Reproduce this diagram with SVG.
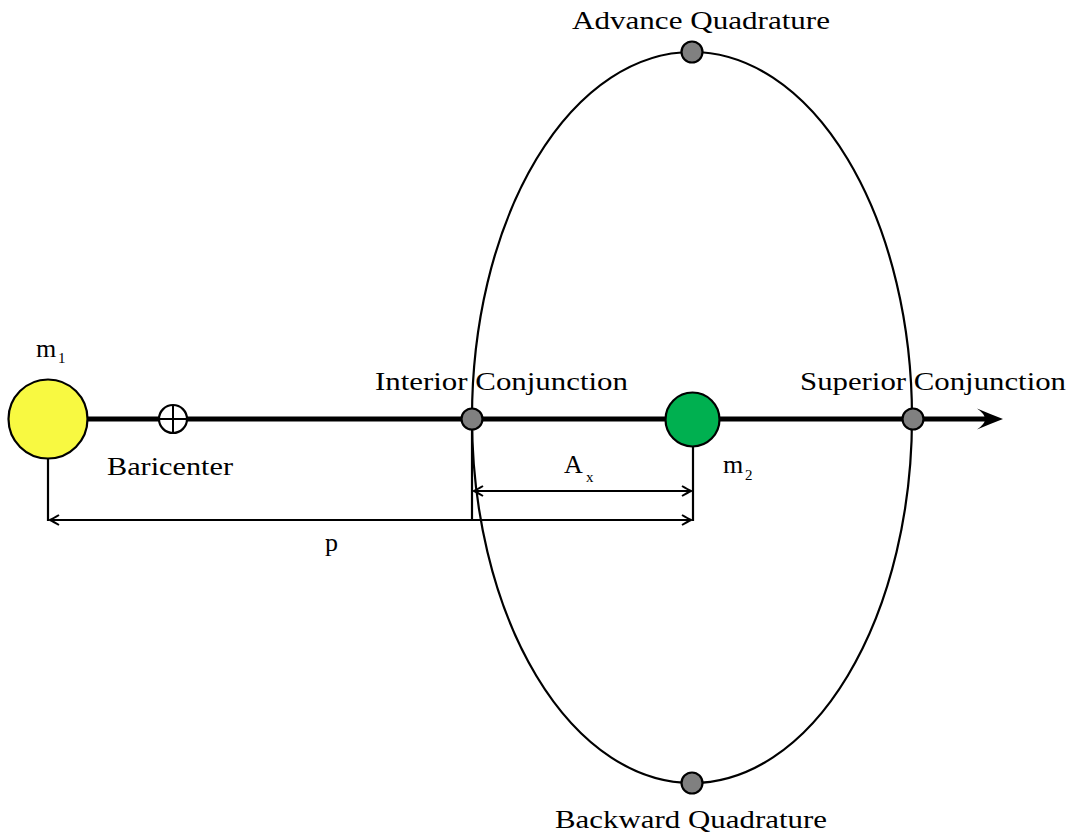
<svg xmlns="http://www.w3.org/2000/svg" width="1075" height="837" viewBox="0 0 1075 837" font-family="'Liberation Serif', 'Times New Roman', serif">
<style>
text{font-family:'Liberation Serif','Times New Roman',serif;font-size:26px;fill:#000}
.sub{font-size:15px}
.thin{stroke:#000;stroke-width:2.2;fill:none}
.dot{fill:#808080;stroke:#000;stroke-width:2.2}
</style>
<defs>
<marker id="tip" viewBox="-12 -7 14 14" refX="0" refY="0" markerWidth="14" markerHeight="14" markerUnits="userSpaceOnUse" orient="auto-start-reverse">
<path d="M-9,-5 Q-3,-1.5 0,0 Q-3,1.5 -9,5" fill="none" stroke="#000" stroke-width="2"/>
</marker>
</defs>
<rect width="1075" height="837" fill="#fff"/>
<g id="orbit">
<ellipse cx="692" cy="417.5" rx="220" ry="365.5" class="thin"/>
</g>
<g id="connectors">
<line x1="87" y1="419" x2="990" y2="419" stroke="#000" stroke-width="5"/>
<path d="M1003,419 Q990,414 977,408.5 Q985,414 985,419 Q985,424 977,429.5 Q990,424 1003,419 Z" fill="#000"/>
<line x1="48" y1="458" x2="48" y2="521" class="thin"/>
<line x1="472" y1="419" x2="472" y2="521" class="thin"/>
<line x1="693" y1="446" x2="693" y2="521" class="thin"/>
<line x1="50" y1="520" x2="691" y2="520" class="thin" marker-start="url(#tip)" marker-end="url(#tip)"/>
<line x1="474" y1="491" x2="691" y2="491" class="thin" marker-start="url(#tip)" marker-end="url(#tip)"/>
</g>
<g id="m1">
<circle cx="48" cy="419" r="39.5" fill="#f8f941" stroke="#000" stroke-width="2.2"/>
<text x="36" y="357" font-size="28">m</text><text class="sub" x="58" y="363">1</text>
</g>
<g id="baricenter">
<circle cx="173" cy="419" r="14" fill="#fff" stroke="#000" stroke-width="2.2"/>
<line x1="159" y1="419" x2="187" y2="419" stroke="#000" stroke-width="2"/>
<line x1="173" y1="405" x2="173" y2="433" stroke="#000" stroke-width="2"/>
<text x="107" y="475" textLength="126" lengthAdjust="spacingAndGlyphs">Baricenter</text>
</g>
<g id="interior">
<circle cx="472" cy="419" r="10.5" class="dot"/>
<text x="375" y="390" textLength="253" lengthAdjust="spacingAndGlyphs">Interior Conjunction</text>
</g>
<g id="m2">
<circle cx="692.5" cy="419.5" r="27" fill="#00b050" stroke="#000" stroke-width="2.2"/>
<text x="723" y="473">m</text><text class="sub" x="745" y="480">2</text>
</g>
<g id="superior">
<circle cx="913" cy="419" r="10.5" class="dot"/>
<text x="800" y="390" textLength="266" lengthAdjust="spacingAndGlyphs">Superior Conjunction</text>
</g>
<g id="advance">
<circle cx="692" cy="52" r="10.5" class="dot"/>
<text x="572" y="29" textLength="258" lengthAdjust="spacingAndGlyphs">Advance Quadrature</text>
</g>
<g id="backward">
<circle cx="692" cy="783" r="10.5" class="dot"/>
<text x="555" y="828" textLength="272" lengthAdjust="spacingAndGlyphs">Backward Quadrature</text>
</g>
<g id="labels">
<text x="564" y="473">A</text><text class="sub" x="586" y="482">x</text>
<text x="325" y="551">p</text>
</g>
</svg>
